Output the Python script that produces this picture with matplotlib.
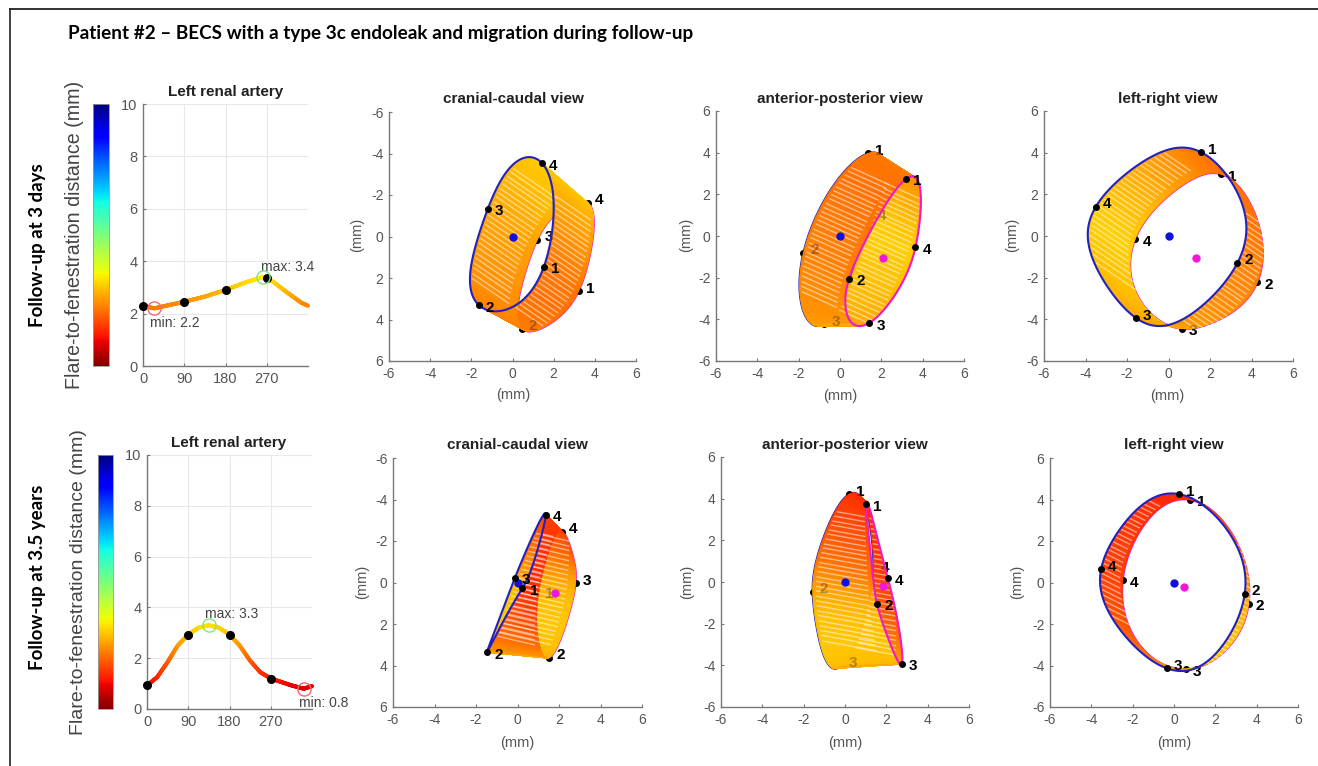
import numpy as np
import matplotlib
matplotlib.use("Agg")
import matplotlib.pyplot as plt
import matplotlib as mpl
from matplotlib.collections import LineCollection, PolyCollection
from matplotlib.lines import Line2D

W, H = 1318, 766
plt.rcParams['font.family'] = ['Liberation Sans', 'DejaVu Sans']
plt.rcParams['axes.unicode_minus'] = False

TITLE = "Patient #2 \u2013 BECS with a type 3c endoleak and migration during follow-up"
ROW_LABELS = ["Follow-up at 3 days", "Follow-up at 3.5 years"]
CBAR_LABEL = "Flare-to-fenestration distance (mm)"
VIEW_TITLES = ["cranial-caudal view", "anterior-posterior view", "left-right view"]
TICKS_MM = [-6, -4, -2, 0, 2, 4, 6]
TICKS_DEG = [0, 90, 180, 270]
TICKS_DIST = [0, 2, 4, 6, 8, 10]

# flare-to-fenestration distance around the clock
deg_1 = [0, 25, 45, 90, 135, 180, 225, 262, 270, 285, 315, 345, 360]
dist_1 = [2.3, 2.2, 2.28, 2.45, 2.65, 2.9, 3.2, 3.4, 3.35, 3.2, 2.8, 2.42, 2.3]
dots_1 = [2.3, 2.45, 2.9, 3.35]
min_1, max_1 = (25, 2.2), (262, 3.4)

deg_2 = [0, 22, 45, 67, 90, 112, 135, 157, 180, 202, 225, 247, 270, 292, 315, 342, 360]
dist_2 = [0.93, 1.25, 1.85, 2.5, 2.93, 3.2, 3.3, 3.2, 2.93, 2.5, 1.9, 1.45, 1.2, 1.07, 0.93, 0.8, 0.9]
dots_2 = [0.93, 2.93, 2.93, 1.2]
min_2, max_2 = (342, 0.8), (135, 3.3)

# rings: 12 anchors, every third one is a numbered point (1, 2, 3, 4)
cc1_blue = [(1.42, 1.58), (0.75, 2.75), (-0.5, 3.65), (-1.73, 3.36), (-2.0, 2.0), (-1.8, 0.6),
            (-1.25, -1.4), (-0.4, -2.9), (0.5, -3.75), (1.42, -3.55), (1.95, -2.2), (2.0, -0.4)]
cc1_mag = [(3.2, 2.6), (2.47, 3.7), (1.3, 4.55), (0.45, 4.35), (0.28, 3.4), (0.6, 1.66),
           (1.25, 0.08), (1.9, -0.84), (2.8, -1.6), (3.7, -1.65), (3.95, -0.6), (3.7, 1.18)]
ap1_blue = [(1.44, 4.03), (0.0, 2.85), (-1.0, 1.4), (-1.73, -1.06), (-2.03, -2.45), (-1.55, -4.13),
            (-0.7, -4.25), (0.0, -3.0), (0.9, -1.2), (1.5, 0.9), (2.0, 2.45), (2.05, 3.7)]
ap1_mag = [(3.2, 2.78), (2.1, 1.3), (1.1, -0.5), (0.39, -2.13), (0.26, -3.2), (0.65, -4.15),
           (1.27, -4.26), (2.56, -3.09), (3.2, -1.8), (3.6, -0.6), (3.95, 1.07), (3.8, 2.5)]
lr1_blue = [(1.53, 4.02), (2.97, 2.83), (3.69, 0.6), (3.37, -1.06), (1.85, -3.4), (-0.08, -4.08),
            (-1.4, -4.02), (-3.13, -2.45), (-3.77, -0.2), (-3.53, 1.15), (-2.0, 3.23), (-0.08, 4.03)]
lr1_mag = [(2.57, 2.78), (3.6, 2.2), (4.57, -0.3), (4.29, -2.13), (3.13, -3.65), (1.93, -4.2),
           (0.64, -4.37), (-0.72, -4.13), (-1.77, -1.8), (-1.56, -0.58), (-0.4, 1.87), (1.2, 2.75)]
cc2_blue = [(0.22, 0.2), (-0.35, 1.33), (-1.15, 2.78), (-1.55, 3.43), (-1.05, 2.3), (-0.6, 1.1),
            (-0.18, -0.28), (0.5, -1.6), (1.0, -2.75), (1.37, -3.46), (1.15, -2.05), (0.65, -0.6)]
cc2_mag = [(0.99, 0.77), (0.9, 1.98), (1.18, 3.27), (1.5, 3.59), (1.98, 2.95), (2.63, 1.17),
           (2.74, 0.12), (2.74, -0.93), (2.55, -1.9), (2.1, -2.43), (1.74, -2.05), (1.34, -0.93)]
ap2_blue = [(0.21, 4.19), (-0.8, 2.83), (-1.37, 1.06), (-1.53, -0.51), (-1.45, -2.15), (-0.88, -3.6),
            (-0.13, -4.27), (0.56, -2.3), (1.29, -0.7), (1.33, 0.51), (1.29, 2.0), (0.96, 3.8)]
ap2_mag = [(1.01, 3.95), (1.2, 2.0), (1.33, 0.26), (1.53, -0.95), (1.93, -2.3), (2.33, -3.27),
           (2.77, -4.03), (2.73, -2.95), (2.41, -1.19), (2.06, 0.1), (1.69, 1.86), (1.2, 3.3)]
lr2_blue = [(0.22, 4.19), (1.91, 3.35), (3.2, 1.41), (3.4, -0.48), (2.72, -2.62), (1.27, -3.91),
            (-0.27, -4.19), (-2.12, -2.94), (-3.34, -1.0), (-3.45, 0.56), (-2.85, 2.38), (-1.32, 3.91)]
lr2_mag = [(0.78, 3.96), (2.24, 3.1), (3.45, 0.93), (3.61, -0.93), (3.05, -2.62), (1.91, -3.75),
           (0.7, -4.07), (-1.15, -3.75), (-2.2, -1.98), (-2.42, 0.12), (-1.96, 2.06), (-0.67, 3.59)]

centre_mag = [(2.05, 1.1), (2.08, -1.04), (1.33, -1.04), (1.79, 0.49), (1.82, -0.19), (0.49, -0.2)]

SUB = 40


def px_axes(fig, left, right, top, bottom):
    return fig.add_axes([left / W, 1 - bottom / H, (right - left) / W, (bottom - top) / H])


def px_text(fig, x, y, s, **kw):
    fig.text(x / W, 1 - y / H, s, ha=kw.pop('ha', 'center'), va=kw.pop('va', 'center'), **kw)


def closed_spline(anchors, sub=SUB, harmonics=3):
    # Catmull-Rom through the anchors, then low-pass so the hand read points draw round
    p = np.array(anchors, float)
    n = len(p)
    out = []
    for i in range(n):
        p0, p1, p2, p3 = p[(i - 1) % n], p[i], p[(i + 1) % n], p[(i + 2) % n]
        for t in np.linspace(0, 1, sub, endpoint=False):
            out.append(0.5 * (2 * p1 + (p2 - p0) * t + (2 * p0 - 5 * p1 + 4 * p2 - p3) * t ** 2
                              + (3 * p1 - p0 - 3 * p2 + p3) * t ** 3))
    out = np.array(out)
    spec = np.fft.rfft(out, axis=0)
    spec[harmonics + 1:] = 0
    return np.fft.irfft(spec, n=len(out), axis=0)


def style_axes(ax, xticks, yticks, size):
    for s in ['top', 'right']:
        ax.spines[s].set_visible(False)
    for s in ['left', 'bottom']:
        ax.spines[s].set_color('#777777')
        ax.spines[s].set_linewidth(1.0)
    ax.set_xticks(xticks)
    ax.set_yticks(yticks)
    ax.tick_params(direction='in', length=2.5, width=0.8, color='#777777',
                   labelsize=size, labelcolor='#555555', pad=4)


def draw_profile(fig, rect, cbar_rect, deg, dist, dots, lo, hi, lo_txt, hi_txt):
    cax = px_axes(fig, *cbar_rect)
    cb = mpl.colorbar.ColorbarBase(cax, cmap=cmap, norm=norm, orientation='vertical', ticks=[])
    cb.outline.set_edgecolor('#999999')
    cb.outline.set_linewidth(0.6)

    ax = px_axes(fig, *rect)
    style_axes(ax, TICKS_DEG, TICKS_DIST, 10.5)
    ax.set_xlim(0, 360)
    ax.set_ylim(0, 10)
    ax.grid(color='#e8e8e8', lw=0.8)
    ax.set_axisbelow(True)
    x = np.linspace(0, 360, 361)
    y = np.interp(x, deg, dist)
    pts = np.column_stack([x, y])
    segs = np.stack([pts[:-1], pts[1:]], axis=1)
    lc = LineCollection(segs, cmap=cmap, norm=norm, linewidth=2.9, capstyle='round', zorder=3)
    lc.set_array(y[:-1])
    lc.set_clip_on(False)
    ax.add_collection(lc)
    ax.plot(TICKS_DEG, dots, 'o', color='black', ms=5.5, zorder=5, clip_on=False)
    ax.plot(*lo, 'o', mfc='none', mec='#f46a6a', ms=9.5, mew=1.0, zorder=6, clip_on=False)
    ax.plot(*hi, 'o', mfc='none', mec='#7ee87e', ms=9.5, mew=1.0, zorder=6, clip_on=False)
    ax.text(lo_txt[0], lo_txt[1], lo_txt[2], ha='center', va='center', fontsize=10, color='#444444', clip_on=False)
    ax.text(hi_txt[0], hi_txt[1], hi_txt[2], ha='center', va='center', fontsize=10, color='#444444', clip_on=False)
    return ax


def draw_view(fig, rect, blue, mag, deg, dist, centre, inverted, front, start):
    ax = px_axes(fig, *rect)
    style_axes(ax, TICKS_MM, TICKS_MM, 10)
    ax.set_xlim(-6, 6)
    if inverted:
        ax.set_ylim(6, -6)
    else:
        ax.set_ylim(-6, 6)

    b = closed_spline(blue)
    m = closed_spline(mag)
    n = len(b)
    angle = np.arange(n) / n * 360
    # ribbons read a little flatter than the bar: bright red low down, gold on top
    col = np.interp(np.interp(angle, deg, dist), [0.8, 2.3, 3.4], [1.35, 2.15, 3.1])

    order = np.roll(np.arange(n), -start * SUB)
    quads = [[b[i], b[(i + 1) % n], m[(i + 1) % n], m[i]] for i in order]
    fc = cmap(norm(col[order]))
    ax.add_collection(PolyCollection(quads, facecolors=fc, edgecolors=fc, linewidths=0.4, zorder=3))

    # pale stripes left between the ribbon's lines, they all run along the shift of the rings
    shift = (m - b).mean(axis=0)
    unit = shift / np.hypot(*shift)
    perp = np.array([-unit[1], unit[0]])
    s = b @ perp
    s_lo, s_hi = s.min(), s.max()
    band = np.floor(s / 0.23)
    stripes = []
    for i in range(n - 1):
        if band[i] != band[i + 1] and s_lo + 0.12 * (s_hi - s_lo) < s[i] < s_lo + 0.88 * (s_hi - s_lo):
            length = (m[i] - b[i]) @ unit
            stripes.append([b[i] + 0.05 * length * unit, b[i] + 0.88 * length * unit])
    ax.add_collection(LineCollection(stripes, colors='white', linewidths=1.0, alpha=0.5, zorder=3.2))

    rings = {'blue': (b, '#2222c0', 0.12), 'mag': (m, '#f018c8', -0.12)}
    for name, (curve, colour, nudge) in rings.items():
        on_top = name == front
        z = 5 if on_top else 2
        closed = np.vstack([curve, curve[:1]])
        ax.plot(closed[:, 0], closed[:, 1], color=colour, lw=1.5, zorder=z)
        for k, (px, py) in enumerate(curve[::3 * SUB]):
            ax.plot(px, py, 'o', color='black', ms=4, zorder=z + 0.5)
            ax.text(px + 0.55, py + nudge, str(k + 1), ha='center', va='center', fontsize=11,
                    fontweight='bold', color='black', zorder=z + 0.5)
            if not on_top:
                # label of the far ring shows through faintly
                ax.text(px + 0.55, py + nudge, str(k + 1), ha='center', va='center', fontsize=11,
                        fontweight='bold', color='black', alpha=0.3, zorder=3.5)
    ax.plot(0, 0, 'o', color='#1010e0', ms=5, zorder=4)
    ax.plot(*centre, 'o', color='#f018d8', ms=5, zorder=2.5 if centre == centre_mag[0] else 4)
    return ax


cmap = mpl.colormaps['jet_r']
norm = mpl.colors.Normalize(vmin=0, vmax=10)

fig = plt.figure(figsize=(W / 100, H / 100), dpi=100)

# page frame and heading
fig.add_artist(Line2D([9.7 / W, 9.7 / W], [0, 1 - 8.5 / H], color='#222222', lw=1.2))
fig.add_artist(Line2D([9.7 / W, 1], [1 - 8.5 / H, 1 - 8.5 / H], color='#222222', lw=1.3))
px_text(fig, 68, 34, TITLE, ha='left', fontsize=13.6, fontweight='bold', family='Lato', color='black')

for y, label in zip([245, 577], ROW_LABELS):
    px_text(fig, 38, y, label, rotation=90, fontsize=13.5, fontweight='bold', family='Lato', color='black')
px_text(fig, 75, 235, CBAR_LABEL, rotation=90, fontsize=14.1, color='#444444')
px_text(fig, 79, 582, CBAR_LABEL, rotation=90, fontsize=14, color='#444444')

draw_profile(fig, (143, 308, 104, 366), (93, 109, 104, 366), deg_1, dist_1, dots_1, min_1, max_1,
             (70, 1.64, 'min: 2.2'), (316, 3.78, 'max: 3.4'))
draw_profile(fig, (147, 312, 455, 709), (98, 113, 455, 709), deg_2, dist_2, dots_2, min_2, max_2,
             (386, 0.24, 'min: 0.8'), (185, 3.74, 'max: 3.3'))
px_text(fig, 226, 92, "Left renal artery", fontsize=11, fontweight='bold', color='#222222')
px_text(fig, 229, 443, "Left renal artery", fontsize=11, fontweight='bold', color='#222222')

draw_view(fig, (389, 636, 112, 361), cc1_blue, cc1_mag, deg_1, dist_1, centre_mag[0], True, 'blue', 0)
draw_view(fig, (716, 964, 111, 361), ap1_blue, ap1_mag, deg_1, dist_1, centre_mag[1], False, 'mag', 6)
draw_view(fig, (1044, 1293, 111, 361), lr1_blue, lr1_mag, deg_1, dist_1, centre_mag[2], False, 'blue', 0)
draw_view(fig, (393, 642, 458, 707), cc2_blue, cc2_mag, deg_2, dist_2, centre_mag[3], True, 'blue', 3)
draw_view(fig, (721, 969, 457, 707), ap2_blue, ap2_mag, deg_2, dist_2, centre_mag[4], False, 'mag', 6)
draw_view(fig, (1050, 1298, 458, 707), lr2_blue, lr2_mag, deg_2, dist_2, centre_mag[5], False, 'blue', 0)

# titles and (mm) labels of the six views
for x, title in zip([513, 840, 1168], VIEW_TITLES):
    px_text(fig, x, 99, title, fontsize=11, fontweight='bold', color='#222222')
for x, title in zip([517, 845, 1174], VIEW_TITLES):
    px_text(fig, x, 445, title, fontsize=11, fontweight='bold', color='#222222')
for x, y in [(513, 395), (840, 396), (1167, 396), (517, 743), (845, 743), (1174, 743)]:
    px_text(fig, x, y, "(mm)", fontsize=10.5, color='#555555')
for x, y in [(357, 235), (686, 235), (1012, 235), (362, 582), (687, 582), (1017, 582)]:
    px_text(fig, x, y, "(mm)", rotation=90, fontsize=10.5, color='#555555')

fig.savefig("out.png", dpi=100)
plt.close("all")
